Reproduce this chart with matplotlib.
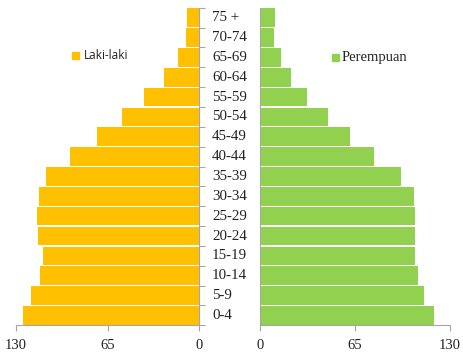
import matplotlib
matplotlib.use("Agg")
import matplotlib.pyplot as plt
from matplotlib.patches import Rectangle

categories = ["0-4", "5-9", "10-14", "15-19", "20-24", "25-29", "30-34", "35-39",
              "40-44", "45-49", "50-54", "55-59", "60-64", "65-69", "70-74", "75 +"]
laki = [124.9, 119.2, 113.0, 110.9, 114.6, 115.4, 113.7, 108.7,
        92.0, 72.8, 54.9, 39.1, 25.1, 15.4, 9.8, 9.1]
perempuan = [119.3, 112.7, 108.3, 106.3, 105.9, 106.5, 105.4, 96.6,
             78.3, 61.4, 46.3, 32.1, 21.1, 14.4, 9.6, 9.9]
xticks = [0, 65, 130]

W, H = 464, 354
fig = plt.figure(figsize=(W / 100, H / 100), dpi=100)

serif = ["Liberation Serif", "DejaVu Serif"]
sans = ["Open Sans", "DejaVu Sans"]
yellow = "#FFC000"
green = "#92D050"
grey = "#A6A6A6"

top_px, bot_px = 7.8, 325.3
def ax_rect(x0, x1):
    return [x0 / W, 1 - bot_px / H, (x1 - x0) / W, (bot_px - top_px) / H]

y = list(range(len(categories)))

axL = fig.add_axes(ax_rect(16, 199.5))
axL.barh(y, laki, height=0.94, color=yellow, edgecolor="none")
axL.set_xlim(130, 0)
axL.set_ylim(-0.5, len(categories) - 0.5)
axR = fig.add_axes(ax_rect(260.3, 449.7))
axR.barh(y, perempuan, height=0.94, color=green, edgecolor="none")
axR.set_xlim(0, 130)
axR.set_ylim(-0.5, len(categories) - 0.5)

for ax in (axL, axR):
    for s in ax.spines.values():
        s.set_visible(False)
    ax.spines["bottom"].set_visible(True)
    ax.spines["bottom"].set_color(grey)
    ax.spines["bottom"].set_linewidth(0.8)
    ax.set_xticks(xticks)
    ax.set_xticklabels([str(v) for v in xticks], fontfamily=serif, fontsize=10.5,
                       color="#222222")
    ax.tick_params(axis="x", length=4, color=grey, pad=6)

axL.spines["right"].set_visible(True)
axL.spines["right"].set_color(grey)
axL.spines["right"].set_linewidth(0.8)
axL.yaxis.tick_right()
axL.set_yticks([i - 0.5 for i in range(len(categories) + 1)])
axL.set_yticklabels([])
axL.tick_params(axis="y", length=4, color=grey, direction="out")

axR.spines["left"].set_visible(True)
axR.spines["left"].set_color(grey)
axR.spines["left"].set_linewidth(0.8)
axR.set_yticks([])

for i, c in enumerate(categories):
    axL.annotate(c, xy=(1.0, i), xycoords=("axes fraction", "data"),
                 xytext=(212 - 199.5, 0), textcoords="offset pixels",
                 ha="left", va="center", fontfamily=serif, fontsize=10.8, color="#222222")

# legends
fig.patches.append(Rectangle((72 / W, 1 - 59 / H), 7 / W, 7 / H, color=yellow,
                             transform=fig.transFigure, figure=fig))
fig.text(84 / W, 1 - 55.5 / H, "Laki-laki", fontfamily=sans, fontsize=8.5,
         va="center", ha="left", color="#222222")
fig.patches.append(Rectangle((332 / W, 1 - 60.5 / H), 7 / W, 7 / H, color=green,
                             transform=fig.transFigure, figure=fig))
fig.text(342 / W, 1 - 57 / H, "Perempuan", fontfamily=serif, fontsize=10.5,
         va="center", ha="left", color="#222222")

fig.savefig("out.png", dpi=100, facecolor="white")
